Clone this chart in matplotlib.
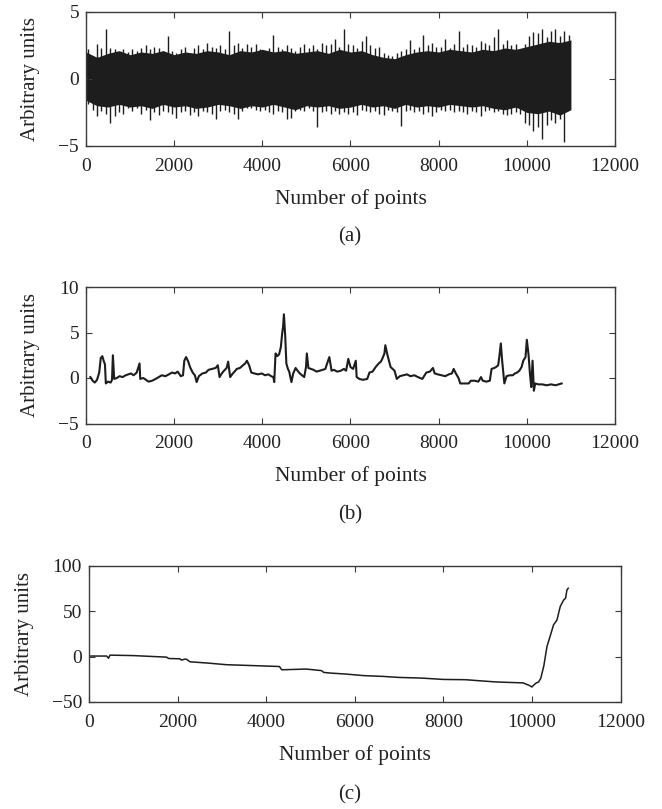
import numpy as np
import matplotlib
matplotlib.use("Agg")
import matplotlib.pyplot as plt

plt.rcParams.update({
    "font.family": "serif",
    "font.serif": ["Liberation Serif", "DejaVu Serif"],
    "font.size": 14,
    "axes.linewidth": 1.0,
    "axes.edgecolor": "#3a3a3a",
})

INK = "#1d1d1d"

# (a) raw signal: per-100-point envelope (spike tops / bottoms)
a_bins = np.arange(50, 11000, 100)
a_hi = [2.2, 1.6, 2.6, 2.3, 3.7, 2.3, 2.2, 1.9, 2.2, 2.0,
        2.2, 2.1, 2.3, 2.5, 2.2, 2.4, 2.3, 2.1, 3.2, 2.1,
        1.9, 2.2, 2.4, 1.8, 2.3, 2.5, 2.2, 2.7, 2.4, 2.3,
        2.5, 2.2, 3.6, 2.5, 2.7, 2.3, 2.6, 2.4, 2.6, 2.2,
        2.1, 2.3, 3.3, 2.4, 2.2, 2.5, 2.3, 2.1, 2.4, 2.6,
        2.3, 2.5, 2.2, 2.7, 2.5, 2.6, 3.0, 2.4, 3.7, 2.6,
        2.5, 2.3, 2.8, 3.2, 2.5, 2.3, 2.4, 1.9, 1.8, 1.7,
        1.9, 2.1, 2.2, 2.9, 2.2, 2.4, 3.3, 2.5, 2.7, 2.4,
        2.4, 3.0, 2.3, 2.6, 3.6, 2.4, 2.6, 2.5, 2.4, 2.8,
        2.7, 2.5, 3.1, 3.7, 2.6, 2.9, 2.5, 2.6, 1.9, 2.6,
        3.2, 3.5, 3.4, 3.7, 3.1, 3.6, 3.7, 3.2, 3.6, 3.3]
a_lo = [-1.9, -2.3, -2.8, -2.4, -2.6, -3.3, -2.8, -2.5, -2.6, -2.2,
        -2.4, -2.2, -2.6, -2.3, -3.1, -2.5, -2.7, -2.4, -2.5, -2.6,
        -2.9, -2.5, -2.4, -2.7, -2.5, -2.8, -2.4, -2.5, -2.6, -3.0,
        -2.4, -2.3, -2.5, -2.6, -3.0, -2.4, -2.2, -2.2, -2.3, -2.4,
        -2.3, -2.5, -2.6, -2.4, -2.5, -3.0, -2.9, -2.4, -2.3, -2.4,
        -2.2, -2.4, -3.6, -2.5, -2.4, -2.6, -2.4, -2.6, -2.5, -2.6,
        -2.5, -2.7, -2.3, -2.4, -2.5, -2.4, -2.6, -2.7, -2.3, -2.4,
        -2.5, -3.5, -2.4, -2.3, -2.5, -2.4, -2.6, -2.5, -2.8, -2.5,
        -2.3, -2.4, -2.3, -2.5, -2.4, -2.5, -2.6, -2.4, -2.5, -2.8,
        -2.4, -2.3, -2.5, -2.4, -2.6, -2.7, -2.6, -2.5, -2.6, -3.3,
        -3.4, -3.9, -3.6, -4.5, -3.4, -3.1, -3.3, -3.0, -4.7, -2.2]
# dense core of the band, every 250 points
a_core_x = np.arange(0, 11001, 250)
a_core_hi = [2.0, 1.6, 1.9, 2.1, 1.8, 2.0, 1.9, 2.1, 1.8, 2.0,
             1.9, 2.1, 2.0, 1.8, 2.1, 2.0, 2.2, 2.0, 2.1, 1.9,
             2.0, 2.1, 1.9, 2.2, 2.0, 2.1, 1.8, 1.6, 1.5, 1.8,
             2.0, 2.1, 2.0, 2.2, 2.1, 2.0, 2.2, 2.1, 2.3, 2.2,
             2.4, 2.6, 2.8, 2.7, 2.9]
a_core_lo = [-1.6, -2.0, -2.1, -1.9, -2.1, -2.0, -2.2, -1.9, -2.1, -2.0,
             -2.2, -2.1, -1.9, -2.0, -2.2, -2.0, -2.1, -1.9, -2.1, -2.3,
             -2.0, -2.1, -2.0, -2.2, -2.1, -1.9, -2.1, -2.0, -2.2, -1.9,
             -2.1, -2.0, -2.1, -1.9, -2.0, -2.1, -2.0, -2.2, -2.3, -2.1,
             -2.5, -2.6, -2.4, -2.7, -2.3]

# (b) integrated / detrended signal
b_x = [100, 150, 200, 250, 300, 335, 370, 400, 430, 450,
       500, 560, 590, 610, 640, 700, 760, 830, 900, 960,
       1020, 1080, 1150, 1215, 1230, 1300, 1360, 1420, 1500, 1580,
       1650, 1720, 1800, 1880, 1950, 2020, 2080, 2150, 2200, 2230,
       2270, 2320, 2360, 2420, 2470, 2510, 2560, 2640, 2720, 2780,
       2860, 2940, 2990, 3030, 3080, 3130, 3190, 3225, 3270, 3330,
       3370, 3420, 3490, 3560, 3610, 3650, 3700, 3750, 3820, 3900,
       3990, 4060, 4140, 4200, 4250, 4270, 4300, 4340, 4380, 4420,
       4450, 4470, 4490, 4520, 4545, 4580, 4610, 4660, 4700, 4755,
       4800, 4850, 4900, 4950, 4990, 5010, 5045, 5100, 5160, 5230,
       5300, 5370, 5430, 5470, 5520, 5570, 5620, 5700, 5780, 5850,
       5900, 5950, 6000, 6060, 6120, 6140, 6200, 6280, 6380, 6430,
       6500, 6570, 6640, 6690, 6720, 6770, 6790, 6840, 6910, 7000,
       7050, 7120, 7200, 7280, 7360, 7450, 7530, 7630, 7720, 7800,
       7870, 7910, 7980, 8060, 8150, 8230, 8300, 8340, 8390, 8450,
       8490, 8580, 8680, 8730, 8820, 8900, 8960, 9000, 9080, 9160,
       9200, 9260, 9300, 9350, 9380, 9410, 9440, 9490, 9540, 9610,
       9680, 9730, 9780, 9830, 9880, 9920, 9970, 10000, 10040, 10070,
       10100, 10130, 10160, 10190, 10260, 10350, 10450, 10550, 10650, 10720,
       10790]
b_y = [0.1, -0.3, -0.5, -0.2, 0.6, 2.2, 2.4, 1.9, 1.5, -0.6,
       -0.4, -0.5, -0.2, 2.5, -0.1, 0.0, 0.2, 0.1, 0.3, 0.4,
       0.5, 0.3, 0.6, 1.6, -0.1, 0.0, -0.2, -0.4, -0.3, -0.1,
       0.1, 0.3, 0.2, 0.4, 0.6, 0.5, 0.7, 0.2, 0.3, 1.9,
       2.3, 1.8, 1.2, 0.6, 0.3, -0.45, 0.2, 0.5, 0.6, 0.9,
       1.0, 1.1, 1.4, 0.1, 0.5, 0.8, 1.1, 1.8, 0.1, 0.5,
       0.7, 1.0, 1.1, 1.4, 1.6, 1.9, 1.4, 0.6, 0.5, 0.4,
       0.5, 0.3, 0.4, 0.2, 0.1, -0.45, 2.7, 2.4, 2.6, 3.4,
       4.9, 5.6, 7.0, 4.5, 1.6, 1.0, 0.7, -0.45, 0.5, 1.1,
       0.8, 0.5, 0.3, 0.1, 1.2, 2.7, 1.1, 1.0, 0.9, 0.7,
       0.8, 0.9, 1.0, 1.6, 2.3, 0.8, 0.9, 0.7, 0.8, 1.0,
       0.8, 2.1, 1.2, 1.0, 1.9, 0.1, -0.1, -0.2, -0.1, 0.6,
       0.7, 1.2, 1.6, 1.8, 2.1, 2.7, 3.6, 2.5, 1.2, 0.8,
       -0.1, 0.2, 0.3, 0.4, 0.2, 0.3, 0.1, -0.1, 0.6, 0.7,
       1.1, 0.5, 0.4, 0.3, 0.2, 0.4, 0.5, 1.0, 0.5, 0.0,
       -0.6, -0.6, -0.6, -0.3, -0.3, -0.4, 0.1, -0.3, -0.4, -0.3,
       1.0, 1.1, 1.2, 1.4, 2.5, 3.8, 1.9, -0.6, 0.2, 0.3,
       0.3, 0.5, 0.6, 0.8, 1.2, 1.9, 2.3, 4.2, 2.5, 0.5,
       -1.0, 1.9, -1.4, -0.6, -0.7, -0.7, -0.8, -0.7, -0.8, -0.7,
       -0.6]

# (c) cumulative signal
c_x = [0, 400, 440, 475, 1000, 1750, 1800, 2050, 2090, 2150,
       2200, 2280, 2700, 3100, 3700, 4300, 4350, 4900, 5250, 5300,
       5450, 5800, 6200, 6650, 7000, 7500, 8000, 8500, 8800, 9200,
       9500, 9800, 9900, 9950, 10000, 10050, 10100, 10150, 10200, 10270,
       10340, 10410, 10490, 10565, 10640, 10715, 10760, 10790, 10820]
c_y = [0.5, 0.5, -2, 1.5, 1, -0.7, -2.2, -2.5, -4, -3,
       -3, -5.8, -7.3, -9, -10, -11, -14.6, -13.8, -15.5, -17.5,
       -18.2, -19.3, -21, -21.9, -23, -23.7, -25.2, -25.5, -26.6, -28,
       -28.5, -29, -31, -32, -33.5, -31, -29, -28, -24, -10,
       11, 22, 35, 40, 55, 62, 64, 73, 75]

xticks = np.arange(0, 12001, 2000)

W, H = 662, 809
fig = plt.figure(figsize=(W / 100, H / 100), dpi=100)


def make_axes(left, top, right, bottom):
    return fig.add_axes([left / W, 1 - bottom / H, (right - left) / W, (bottom - top) / H])


def style(ax, yticks, ylim):
    ax.set_xlim(0, 12000)
    ax.set_ylim(*ylim)
    ax.set_xticks(xticks)
    ax.set_yticks(yticks)
    ax.tick_params(direction="in", top=True, right=True, length=4.3, width=0.8,
                   labelsize=14, colors="#3a3a3a", labelcolor="#222222")
    ax.tick_params(axis="x", pad=8.5)
    ax.tick_params(axis="y", pad=5)
    ax.set_xlabel("Number of points", fontsize=15.5, color="#222222", labelpad=10)
    ax.set_ylabel("Arbitrary units", fontsize=15, color="#222222", labelpad=13)


ax_a = make_axes(86, 11.7, 615, 146)
ax_a.fill_between(a_core_x, a_core_lo, a_core_hi, color=INK, lw=0)
ax_a.vlines(a_bins, a_lo, a_hi, color=INK, lw=1.0)
style(ax_a, [-5, 0, 5], (-5, 5))

ax_b = make_axes(86, 287, 615, 423.5)
ax_b.plot(b_x, b_y, color=INK, lw=1.5)
style(ax_b, [-5, 0, 5, 10], (-5, 10))

ax_c = make_axes(89, 565.5, 620.5, 702)
ax_c.plot(c_x, c_y, color=INK, lw=1.1)
style(ax_c, [-50, 0, 50, 100], (-50, 100))

for lab, y in [("(a)", 237), ("(b)", 515), ("(c)", 795)]:
    fig.text(350 / W, 1 - y / H, lab, ha="center", va="center", fontsize=15, color="#222222")

fig.savefig("out.png", dpi=100)
